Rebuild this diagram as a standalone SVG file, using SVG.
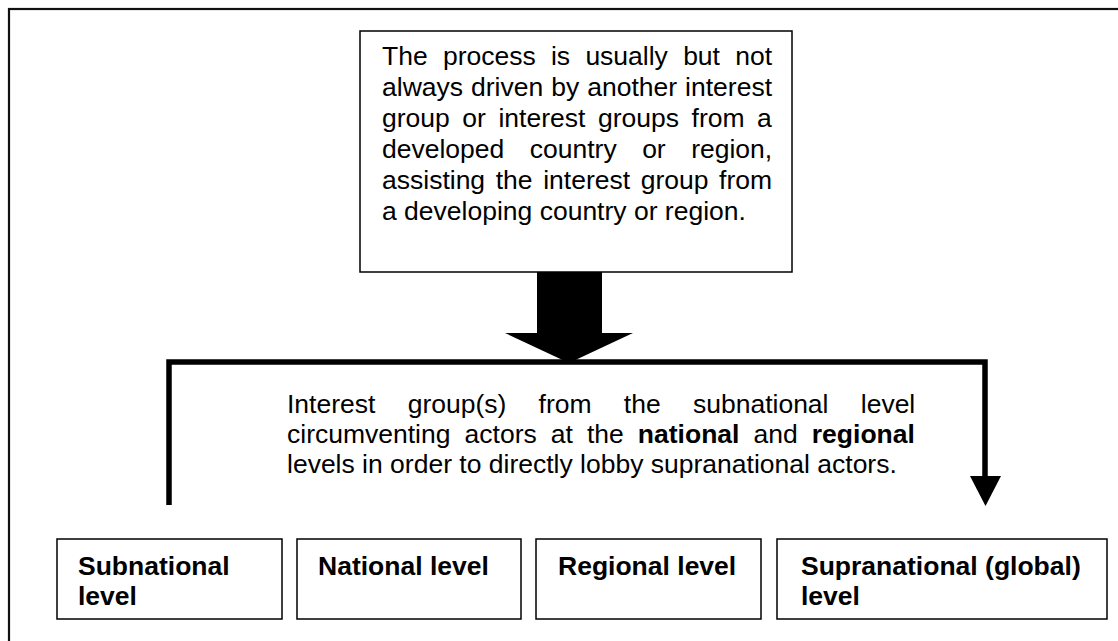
<svg xmlns="http://www.w3.org/2000/svg" width="1118" height="641" viewBox="0 0 1118 641">
<style>
.box{fill:#fff;stroke:#000;stroke-width:1.5}
.t{font-family:"Liberation Sans",Arial,sans-serif;font-size:26.5px;fill:#000}
.b{font-weight:bold}
.conn{fill:none;stroke:#000;stroke-width:5.5}
</style>
<rect width="1118" height="641" fill="#fff"/>
<rect id="frame" x="9" y="9" width="1200" height="700" fill="none" stroke="#111" stroke-width="2.2"/>
<g id="top">
<rect class="box" x="360" y="31" width="432" height="241"/>
<text class="t">
<tspan x="382" y="65" word-spacing="7.9">The process is usually but not</tspan>
<tspan x="382" y="96" word-spacing="0.65">always driven by another interest</tspan>
<tspan x="382" y="127" word-spacing="5.2">group or interest groups from a</tspan>
<tspan x="382" y="158" word-spacing="18.1">developed country or region,</tspan>
<tspan x="382" y="189" word-spacing="3.25">assisting the interest group from</tspan>
<tspan x="382" y="220">a developing country or region.</tspan>
</text>
</g>
<g id="connectors">
<polygon points="537,272 602,272 602,333 633,333 569,363 505,333 537,333" fill="#000"/>
<path class="conn" d="M169,505 V362 H985 V478"/>
<polygon points="970,476 1001,476 985.5,506" fill="#000"/>
</g>
<g id="middle">
<text class="t">
<tspan x="287" y="413" word-spacing="24.9">Interest group(s) from the subnational level</tspan>
<tspan x="287" y="443" word-spacing="6.7">circumventing actors at the <tspan class="b">national</tspan> and <tspan class="b">regional</tspan></tspan>
<tspan x="287" y="473">levels in order to directly lobby supranational actors.</tspan>
</text>
</g>
<g id="subnational">
<rect class="box" x="57" y="539" width="225" height="80"/>
<text class="t b"><tspan x="78" y="575">Subnational</tspan><tspan x="78" y="605">level</tspan></text>
</g>
<g id="national">
<rect class="box" x="297" y="539" width="224" height="80"/>
<text class="t b" x="318" y="575">National level</text>
</g>
<g id="regional">
<rect class="box" x="536" y="539" width="225" height="80"/>
<text class="t b" x="558" y="575">Regional level</text>
</g>
<g id="supranational">
<rect class="box" x="777" y="539" width="330" height="80"/>
<text class="t b"><tspan x="801" y="575">Supranational (global)</tspan><tspan x="801" y="605">level</tspan></text>
</g>
</svg>
